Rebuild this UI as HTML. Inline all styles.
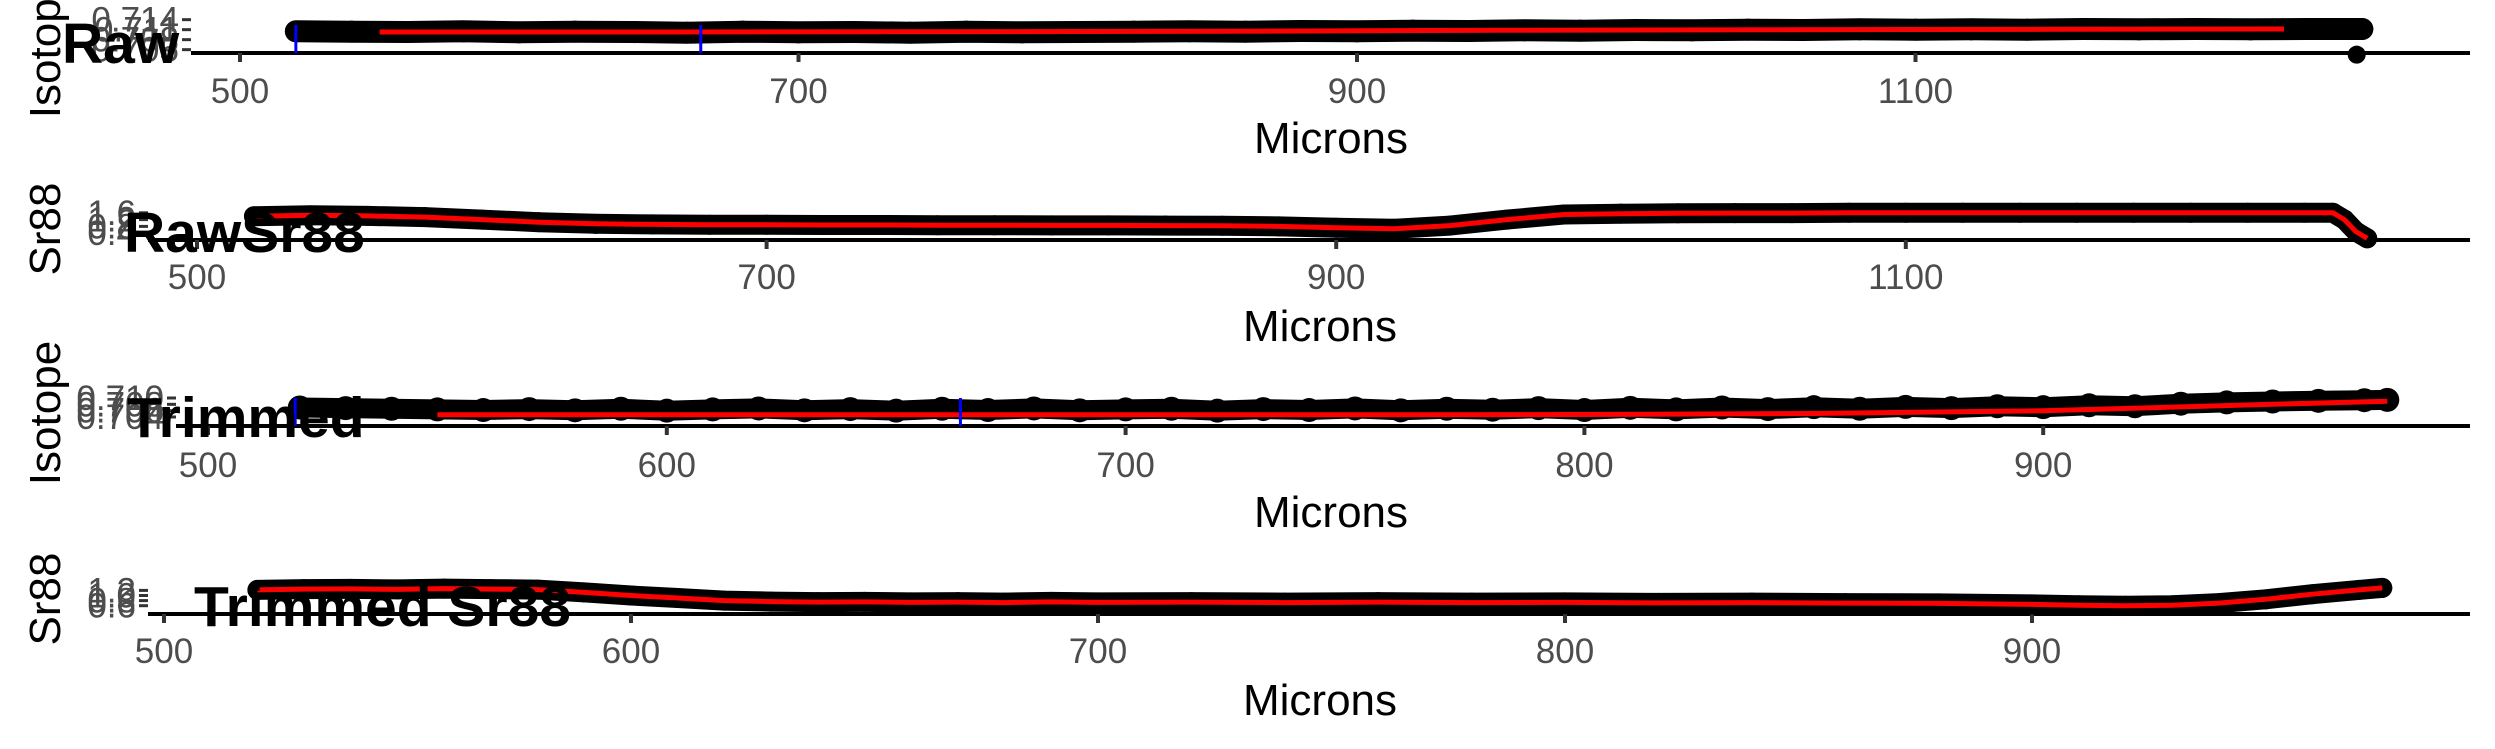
<!DOCTYPE html>
<html><head><meta charset="utf-8"><style>
html,body{margin:0;padding:0;background:#fff;}
svg{display:block;font-family:"Liberation Sans",sans-serif;}
.tick{fill:#4d4d4d;font-size:35px;}
.ttl{fill:#000;font-size:44px;}
.big{fill:#000;font-size:57px;font-weight:bold;}
</style></head><body>
<svg id="chart" width="2495" height="749" viewBox="0 0 2495 749"></svg>
<script>
// ---- data ----
const p1X=[520,540,560,580,600,620,640,660,680,700,720,740,760,780,800,820,840,860,880,900,920,940,960,980,1000,1020,1040,1060,1080,1100,1120,1140,1160,1180,1200,1220,1240,1260];
const p1Y=[0.7105,0.7104,0.7103,0.7105,0.7102,0.7104,0.7103,0.7101,0.7104,0.7102,0.7103,0.7101,0.7104,0.7102,0.7103,0.7104,0.7105,0.7104,0.7106,0.7105,0.7107,0.7106,0.7108,0.7107,0.7109,0.7108,0.7110,0.7109,0.7111,0.7110,0.7111,0.7110,0.7112,0.7111,0.7112,0.7111,0.7112,0.7112];
const p1FitX=[550,650,750,850,950,1050,1150,1232];
const p1FitY=[0.7103,0.7103,0.7104,0.7105,0.7108,0.7110,0.7111,0.7112];
const p1Blue=[520,665];
const p1Ticks=[500,700,900,1100];
const p1YTicks=[0.705,0.708,0.711,0.714];

const p2X=[520,540,560,580,600,620,640,660,680,700,720,740,760,780,800,820,840,860,880,900,920,940,960,980,1000,1020,1040,1060,1080,1100,1120,1140,1160,1180,1200,1220,1240,1250,1254,1258,1262];
const p2Y=[1.40,1.45,1.42,1.35,1.20,1.05,0.95,0.92,0.90,0.90,0.88,0.88,0.87,0.87,0.86,0.86,0.85,0.84,0.80,0.72,0.66,0.85,1.20,1.50,1.55,1.57,1.58,1.58,1.60,1.60,1.60,1.60,1.60,1.60,1.60,1.60,1.60,1.60,1.20,0.50,0.10];
const p2Ticks=[500,700,900,1100];
const p2YTicks=[0.4,0.8,1.2,1.6];

const p3X=[520,530,540,550,560,570,580,590,600,610,620,630,640,650,660,670,680,690,700,710,720,730,740,750,760,770,780,790,800,810,820,830,840,850,860,870,880,890,900,910,920,930,940,950,960,970,975];
const p3Y=[0.7070,0.7068,0.7066,0.7064,0.7062,0.7065,0.7061,0.7066,0.7060,0.7064,0.7067,0.7061,0.7065,0.7060,0.7066,0.7062,0.7067,0.7061,0.7064,0.7066,0.7060,0.7065,0.7062,0.7067,0.7061,0.7066,0.7063,0.7068,0.7062,0.7069,0.7064,0.7070,0.7065,0.7071,0.7066,0.7072,0.7068,0.7074,0.7071,0.7077,0.7074,0.7082,0.7086,0.7089,0.7091,0.7093,0.7094];
const p3FitX=[550,650,750,800,850,900,950,975];
const p3FitY=[0.7047,0.7047,0.7047,0.7048,0.7051,0.7060,0.7080,0.7090];
const p3Blue=[519,664];
const p3Ticks=[500,600,700,800,900];
const p3YTicks=[0.704,0.706,0.708,0.710];

const p4X=[520,530,540,550,560,570,580,590,600,610,620,630,640,650,660,670,680,690,700,720,740,760,780,800,820,840,860,880,900,910,920,930,940,950,960,970,975];
const p4Y=[1.22,1.25,1.26,1.24,1.27,1.25,1.23,1.12,1.00,0.90,0.80,0.76,0.74,0.75,0.73,0.74,0.72,0.75,0.73,0.74,0.72,0.74,0.72,0.73,0.71,0.72,0.70,0.69,0.65,0.62,0.60,0.62,0.70,0.85,1.05,1.22,1.30];
const p4Ticks=[500,600,700,800,900];
const p4YTicks=[0.6,0.8,1.0,1.2];

// ---- scales ----
const s1x=x=>240+(x-500)*2.7925, s1y=v=>53-(v-0.704)/0.009*30;
const s2x=x=>197+(x-500)*2.848,  s2y=v=>240-v*17;
const s3x=x=>208+(x-500)*4.588,  s3y=v=>417-(v-0.704)*3167;
const s4x=x=>164+(x-500)*4.67,   s4y=v=>621-v*25.5;

const svg=document.getElementById('chart');
const NS='http://www.w3.org/2000/svg';
function mk(tag,attrs,parent){const e=document.createElementNS(NS,tag);for(const k in attrs)e.setAttribute(k,attrs[k]);(parent||svg).appendChild(e);return e;}
function pts(xs,ys,sx,sy){return xs.map((x,i)=>sx(x).toFixed(1)+','+sy(ys[i]).toFixed(1)).join(' ');}

function panel(o){
  const g=mk('g',{});
  
  
  const ax=mk('line',{x1:o.axStart,x2:2470,y1:o.axY,y2:o.axY,stroke:'#000','stroke-width':4},g);
  
  
  o.xt.forEach(t=>{
    const x=o.sx(t);
    mk('line',{x1:x,x2:x,y1:o.axY,y2:o.axY+9,stroke:'#333','stroke-width':4},g);
    const tx=mk('text',{x:x,y:o.labY,'text-anchor':'middle',class:'tick'},g);
    tx.textContent=t;
    
    
  });
  o.yt.forEach(t=>{
    const y=o.sy(t);
    mk('line',{x1:o.axStart-9,x2:o.axStart,y1:y,y2:y,stroke:'#333','stroke-width':3},g);
    const tx=mk('text',{x:o.axStart-12,y:y+12,'text-anchor':'end',class:'tick'},g);
    tx.textContent=o.fmt(t);
    
    
  });
  const band=mk('polyline',{points:pts(o.x,o.y,o.sx,o.sy),fill:'none',stroke:'#000','stroke-width':o.bw,'stroke-linejoin':'round','stroke-linecap':'round'},g);
  
  
  o.x.forEach((x,i)=>{
    const c=mk('circle',{cx:o.sx(x),cy:o.sy(o.y[i]),r:o.r,fill:'#000'},g);
    
    
  });
  if(o.extra)o.extra(g);
  const fit=mk('polyline',{points:pts(o.fx,o.fy,o.sx,o.sy),fill:'none',stroke:'#ff0000','stroke-width':5,'stroke-linejoin':'round'},g);
  
  
  (o.blue||[]).forEach(b=>{
    const l=mk('line',{x1:o.sx(b),x2:o.sx(b),y1:o.axY-28,y2:o.axY,stroke:'#0000ff','stroke-width':3},g);
    
    
  });
  const xl=mk('text',{x:o.mx,y:o.my,'text-anchor':'middle',class:'ttl'},g);
  xl.textContent='Microns';
  
  
  const yl=mk('text',{x:0,y:0,'text-anchor':'middle',class:'ttl',transform:'translate(60,'+o.ycy+') rotate(-90)'},g);
  yl.textContent=o.ytitle;
  
  
  const bt=mk('text',{x:o.tx,y:o.ty,class:'big'},g);
  bt.textContent=o.title;
  
  
}

panel({name:'raw-isotope-panel',axStart:191,axY:53,sx:s1x,sy:s1y,xt:p1Ticks,yt:p1YTicks,fmt:v=>v.toFixed(3),
  x:p1X,y:p1Y,fx:p1FitX,fy:p1FitY,bw:22,r:11,blue:p1Blue,labY:103,mx:1331,my:153,ycy:46,ytitle:'Isotope',title:'Raw',tx:62,ty:63,
  extra:g=>{const c=mk('circle',{cx:s1x(1258),cy:s1y(0.7035),r:9,fill:'#000'},g);}});
panel({name:'raw-sr88-panel',axStart:148,axY:240,sx:s2x,sy:s2y,xt:p2Ticks,yt:p2YTicks,fmt:v=>v.toFixed(1),
  x:p2X,y:p2Y,fx:p2X,fy:p2Y,bw:20,r:10,labY:289,mx:1320,my:341,ycy:229,ytitle:'Sr88',title:'RawSr88',tx:124,ty:252});
panel({name:'trimmed-isotope-panel',axStart:176,axY:426,sx:s3x,sy:s3y,xt:p3Ticks,yt:p3YTicks,fmt:v=>v.toFixed(3),
  x:p3X,y:p3Y,fx:p3FitX,fy:p3FitY,bw:20,r:12,blue:p3Blue,labY:477,mx:1331,my:527,ycy:413,ytitle:'Isotope',title:'Trimmed',tx:127,ty:437});
panel({name:'trimmed-sr88-panel',axStart:148,axY:614,sx:s4x,sy:s4y,xt:p4Ticks,yt:p4YTicks,fmt:v=>v.toFixed(1),
  x:p4X,y:p4Y,fx:p4X,fy:p4Y,bw:20,r:10,labY:663,mx:1320,my:715,ycy:599,ytitle:'Sr88',title:'Trimmed Sr88',tx:194,ty:626});
</script>
</body></html>
